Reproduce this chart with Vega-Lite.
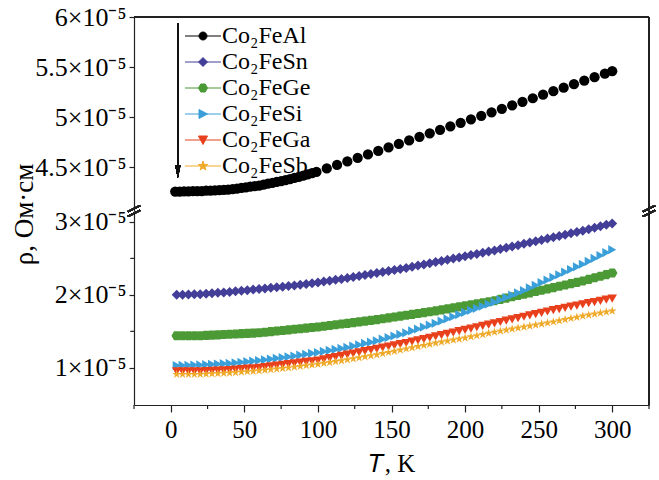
{
  "$schema": "https://vega.github.io/schema/vega-lite/v6.json",
  "background": "white",
  "padding": {"left": 10, "top": 4, "right": 4, "bottom": 4},
  "bounds": "flush",
  "spacing": 0,
  "resolve": {
    "scale": {"x": "independent", "y": "independent", "fill": "independent", "stroke": "independent", "shape": "independent"},
    "legend": {"fill": "independent", "stroke": "independent", "shape": "independent"}
  },
  "config": {
    "view": {"stroke": null},
    "font": "Liberation Serif",
    "axis": {"domainColor": "#222", "tickColor": "#222", "labelColor": "#000", "titleColor": "#000", "grid": false, "labelFont": "Liberation Serif", "titleFont": "Liberation Serif", "titleFontWeight": "normal", "domainWidth": 1.2, "tickWidth": 1.2}
  },
  "vconcat": [
    {
      "width": 515,
      "height": 194,
      "data": {"values": [{"T":3,"rho":4.26},{"T":6,"rho":4.26},{"T":9,"rho":4.261},{"T":12,"rho":4.262},{"T":15,"rho":4.263},{"T":18,"rho":4.264},{"T":21,"rho":4.265},{"T":24,"rho":4.268},{"T":27,"rho":4.27},{"T":30,"rho":4.272},{"T":33,"rho":4.275},{"T":36,"rho":4.277},{"T":39,"rho":4.28},{"T":42,"rho":4.284},{"T":45,"rho":4.29},{"T":48,"rho":4.296},{"T":51,"rho":4.302},{"T":54,"rho":4.308},{"T":57,"rho":4.314},{"T":60,"rho":4.32},{"T":63,"rho":4.329},{"T":66,"rho":4.338},{"T":69,"rho":4.347},{"T":72,"rho":4.356},{"T":75,"rho":4.365},{"T":78,"rho":4.374},{"T":81,"rho":4.383},{"T":84,"rho":4.395},{"T":87,"rho":4.407},{"T":90,"rho":4.419},{"T":93,"rho":4.431},{"T":96,"rho":4.443},{"T":99,"rho":4.455},{"T":106,"rho":4.49},{"T":113,"rho":4.525},{"T":120,"rho":4.56},{"T":127,"rho":4.595},{"T":134,"rho":4.63},{"T":141,"rho":4.665},{"T":148,"rho":4.7},{"T":155,"rho":4.735},{"T":162,"rho":4.77},{"T":169,"rho":4.805},{"T":176,"rho":4.84},{"T":183,"rho":4.875},{"T":190,"rho":4.91},{"T":197,"rho":4.945},{"T":204,"rho":4.98},{"T":211,"rho":5.015},{"T":218,"rho":5.05},{"T":225,"rho":5.085},{"T":232,"rho":5.12},{"T":239,"rho":5.155},{"T":246,"rho":5.19},{"T":253,"rho":5.225},{"T":260,"rho":5.26},{"T":267,"rho":5.295},{"T":274,"rho":5.33},{"T":281,"rho":5.365},{"T":288,"rho":5.4},{"T":295,"rho":5.435},{"T":300,"rho":5.46}]},
      "layer": [
        {
          "mark": {"type": "point", "shape": "circle", "filled": true, "size": 105, "color": "#000", "opacity": 1},
          "encoding": {
            "x": {"field": "T", "type": "quantitative", "scale": {"domain": [-25, 325], "nice": false, "zero": false}, "axis": null},
            "y": {"field": "rho", "type": "quantitative", "scale": {"domain": [4.066, 6], "nice": false, "zero": false},
              "axis": {"values": [4.5, 5, 5.5, 6], "labelExpr": "datum.value + '×10⁻⁵'", "title": null, "tickSize": 5, "labelFontSize": 26, "labelPadding": 3, "labelOverlap": false}}
          }
        },
        {
          "mark": {"type": "rule", "color": "#222", "strokeWidth": 1.2},
          "encoding": {"y": {"datum": 6, "type": "quantitative"}}
        },
        {
          "mark": {"type": "rule", "color": "#222", "strokeWidth": 1.2},
          "encoding": {"x": {"datum": 325, "type": "quantitative"}}
        },
        {
          "mark": {"type": "rule", "color": "#111", "strokeWidth": 1.3},
          "encoding": {
            "x": {"datum": 4.8, "type": "quantitative"},
            "y": {"datum": 5.94, "type": "quantitative"},
            "y2": {"datum": 4.44}
          }
        },
        {
          "mark": {"type": "point", "shape": "M-0.4,-1L0.4,-1L0,1Z", "filled": true, "size": 169, "color": "#111", "opacity": 1},
          "encoding": {
            "x": {"datum": 4.8, "type": "quantitative"},
            "y": {"datum": 4.46, "type": "quantitative"}
          }
        },
        {
          "data": {"values": []},
          "mark": {"type": "point", "filled": true, "opacity": 1},
          "encoding": {
            "fill": {"field": "compound", "type": "nominal",
              "scale": {"domain": ["Co₂FeAl", "Co₂FeSn", "Co₂FeGe", "Co₂FeSi", "Co₂FeGa", "Co₂FeSb"], "range": ["#000000", "#433e97", "#4b9a35", "#3b9fd9", "#e8401c", "#f0aa2a"]},
              "legend": {"orient": "none", "legendX": 57, "legendY": 7, "padding": 0, "rowPadding": 2, "labelOffset": 7, "symbolSize": 100, "labelFontSize": 24, "labelFont": "Liberation Serif", "labelColor": "#000", "title": null, "symbolStrokeWidth": 1, "symbolOpacity": 1, "labelLimit": 0}},
            "stroke": {"field": "compound", "type": "nominal",
              "scale": {"domain": ["Co₂FeAl", "Co₂FeSn", "Co₂FeGe", "Co₂FeSi", "Co₂FeGa", "Co₂FeSb"], "range": ["#000000", "#433e97", "#4b9a35", "#3b9fd9", "#e8401c", "#f0aa2a"]}},
            "shape": {"field": "compound", "type": "nominal",
              "scale": {"domain": ["Co₂FeAl", "Co₂FeSn", "Co₂FeGe", "Co₂FeSi", "Co₂FeGa", "Co₂FeSb"],
                "range": [
                  "M-3.6,0H3.6M0.8,0A0.8,0.8,0,1,1,-0.8,0A0.8,0.8,0,1,1,0.8,0Z",
                  "M-3.6,0H3.6M0,-0.9L0.9,0L0,0.9L-0.9,0Z",
                  "M-3.6,0H3.6M-0.9,0L-0.45,-0.8L0.45,-0.8L0.9,0L0.45,0.8L-0.45,0.8Z",
                  "M-3.6,0H3.6M-0.8,-0.9L0.9,0L-0.8,0.9Z",
                  "M-3.6,0H3.6M-0.9,-0.8L0.9,-0.8L0,0.9Z",
                  "M-3.6,0H3.6M0,-1L0.223,-0.307L0.951,-0.309L0.361,0.117L0.588,0.809L0,0.38L-0.588,0.809L-0.361,0.117L-0.951,-0.309L-0.223,-0.307Z"
                ]}}
          }
        }
      ]
    },
    {
      "width": 515,
      "height": 194,
      "data": {"values": [
        {"T":4,"Sn":2.0,"Ge":1.44,"Si":1.03,"Ga":0.95,"Sb":0.91},
        {"T":8,"Sn":2.0,"Ge":1.44,"Si":1.033,"Ga":0.95,"Sb":0.91},
        {"T":12,"Sn":2.005,"Ge":1.44,"Si":1.035,"Ga":0.95,"Sb":0.91},
        {"T":16,"Sn":2.01,"Ge":1.44,"Si":1.038,"Ga":0.95,"Sb":0.91},
        {"T":20,"Sn":2.01,"Ge":1.44,"Si":1.04,"Ga":0.95,"Sb":0.91},
        {"T":24,"Sn":2.016,"Ge":1.444,"Si":1.044,"Ga":0.954,"Sb":0.914},
        {"T":28,"Sn":2.022,"Ge":1.448,"Si":1.048,"Ga":0.958,"Sb":0.918},
        {"T":32,"Sn":2.028,"Ge":1.452,"Si":1.052,"Ga":0.962,"Sb":0.922},
        {"T":36,"Sn":2.034,"Ge":1.456,"Si":1.056,"Ga":0.966,"Sb":0.926},
        {"T":40,"Sn":2.04,"Ge":1.46,"Si":1.06,"Ga":0.97,"Sb":0.93},
        {"T":44,"Sn":2.048,"Ge":1.464,"Si":1.068,"Ga":0.976,"Sb":0.936},
        {"T":48,"Sn":2.056,"Ge":1.468,"Si":1.076,"Ga":0.982,"Sb":0.942},
        {"T":52,"Sn":2.064,"Ge":1.472,"Si":1.084,"Ga":0.988,"Sb":0.948},
        {"T":56,"Sn":2.072,"Ge":1.476,"Si":1.092,"Ga":0.994,"Sb":0.954},
        {"T":60,"Sn":2.08,"Ge":1.48,"Si":1.1,"Ga":1.0,"Sb":0.96},
        {"T":64,"Sn":2.088,"Ge":1.488,"Si":1.11,"Ga":1.01,"Sb":0.968},
        {"T":68,"Sn":2.096,"Ge":1.496,"Si":1.12,"Ga":1.02,"Sb":0.976},
        {"T":72,"Sn":2.104,"Ge":1.504,"Si":1.13,"Ga":1.03,"Sb":0.984},
        {"T":76,"Sn":2.112,"Ge":1.512,"Si":1.14,"Ga":1.04,"Sb":0.992},
        {"T":80,"Sn":2.12,"Ge":1.52,"Si":1.15,"Ga":1.05,"Sb":1.0},
        {"T":84,"Sn":2.13,"Ge":1.528,"Si":1.162,"Ga":1.06,"Sb":1.01},
        {"T":88,"Sn":2.14,"Ge":1.536,"Si":1.174,"Ga":1.07,"Sb":1.02},
        {"T":92,"Sn":2.15,"Ge":1.544,"Si":1.186,"Ga":1.08,"Sb":1.03},
        {"T":96,"Sn":2.16,"Ge":1.552,"Si":1.198,"Ga":1.09,"Sb":1.04},
        {"T":100,"Sn":2.17,"Ge":1.56,"Si":1.21,"Ga":1.1,"Sb":1.05},
        {"T":104,"Sn":2.182,"Ge":1.57,"Si":1.224,"Ga":1.116,"Sb":1.062},
        {"T":108,"Sn":2.194,"Ge":1.58,"Si":1.238,"Ga":1.132,"Sb":1.074},
        {"T":112,"Sn":2.206,"Ge":1.59,"Si":1.252,"Ga":1.148,"Sb":1.086},
        {"T":116,"Sn":2.218,"Ge":1.6,"Si":1.266,"Ga":1.164,"Sb":1.098},
        {"T":120,"Sn":2.23,"Ge":1.61,"Si":1.28,"Ga":1.18,"Sb":1.11},
        {"T":124,"Sn":2.244,"Ge":1.62,"Si":1.298,"Ga":1.196,"Sb":1.124},
        {"T":128,"Sn":2.258,"Ge":1.63,"Si":1.316,"Ga":1.212,"Sb":1.138},
        {"T":132,"Sn":2.272,"Ge":1.64,"Si":1.334,"Ga":1.228,"Sb":1.152},
        {"T":136,"Sn":2.286,"Ge":1.65,"Si":1.352,"Ga":1.244,"Sb":1.166},
        {"T":140,"Sn":2.3,"Ge":1.66,"Si":1.37,"Ga":1.26,"Sb":1.18},
        {"T":144,"Sn":2.314,"Ge":1.672,"Si":1.392,"Ga":1.276,"Sb":1.196},
        {"T":148,"Sn":2.328,"Ge":1.684,"Si":1.414,"Ga":1.292,"Sb":1.212},
        {"T":152,"Sn":2.342,"Ge":1.696,"Si":1.436,"Ga":1.308,"Sb":1.228},
        {"T":156,"Sn":2.356,"Ge":1.708,"Si":1.458,"Ga":1.324,"Sb":1.244},
        {"T":160,"Sn":2.37,"Ge":1.72,"Si":1.48,"Ga":1.34,"Sb":1.26},
        {"T":164,"Sn":2.386,"Ge":1.732,"Si":1.506,"Ga":1.358,"Sb":1.276},
        {"T":168,"Sn":2.402,"Ge":1.744,"Si":1.532,"Ga":1.376,"Sb":1.292},
        {"T":172,"Sn":2.418,"Ge":1.756,"Si":1.558,"Ga":1.394,"Sb":1.308},
        {"T":176,"Sn":2.434,"Ge":1.768,"Si":1.584,"Ga":1.412,"Sb":1.324},
        {"T":180,"Sn":2.45,"Ge":1.78,"Si":1.61,"Ga":1.43,"Sb":1.34},
        {"T":184,"Sn":2.466,"Ge":1.794,"Si":1.64,"Ga":1.448,"Sb":1.354},
        {"T":188,"Sn":2.482,"Ge":1.808,"Si":1.67,"Ga":1.466,"Sb":1.368},
        {"T":192,"Sn":2.498,"Ge":1.822,"Si":1.7,"Ga":1.484,"Sb":1.382},
        {"T":196,"Sn":2.514,"Ge":1.836,"Si":1.73,"Ga":1.502,"Sb":1.396},
        {"T":200,"Sn":2.53,"Ge":1.85,"Si":1.76,"Ga":1.52,"Sb":1.41},
        {"T":204,"Sn":2.546,"Ge":1.864,"Si":1.788,"Ga":1.538,"Sb":1.426},
        {"T":208,"Sn":2.562,"Ge":1.878,"Si":1.816,"Ga":1.556,"Sb":1.442},
        {"T":212,"Sn":2.578,"Ge":1.892,"Si":1.844,"Ga":1.574,"Sb":1.458},
        {"T":216,"Sn":2.594,"Ge":1.906,"Si":1.872,"Ga":1.592,"Sb":1.474},
        {"T":220,"Sn":2.61,"Ge":1.92,"Si":1.9,"Ga":1.61,"Sb":1.49},
        {"T":224,"Sn":2.628,"Ge":1.938,"Si":1.932,"Ga":1.628,"Sb":1.504},
        {"T":228,"Sn":2.646,"Ge":1.956,"Si":1.964,"Ga":1.646,"Sb":1.518},
        {"T":232,"Sn":2.664,"Ge":1.974,"Si":1.996,"Ga":1.664,"Sb":1.532},
        {"T":236,"Sn":2.682,"Ge":1.992,"Si":2.028,"Ga":1.682,"Sb":1.546},
        {"T":240,"Sn":2.7,"Ge":2.01,"Si":2.06,"Ga":1.7,"Sb":1.56},
        {"T":244,"Sn":2.718,"Ge":2.028,"Si":2.096,"Ga":1.718,"Sb":1.574},
        {"T":248,"Sn":2.736,"Ge":2.046,"Si":2.132,"Ga":1.736,"Sb":1.588},
        {"T":252,"Sn":2.754,"Ge":2.064,"Si":2.168,"Ga":1.754,"Sb":1.602},
        {"T":256,"Sn":2.772,"Ge":2.082,"Si":2.204,"Ga":1.772,"Sb":1.616},
        {"T":260,"Sn":2.79,"Ge":2.1,"Si":2.24,"Ga":1.79,"Sb":1.63},
        {"T":264,"Sn":2.808,"Ge":2.118,"Si":2.276,"Ga":1.806,"Sb":1.646},
        {"T":268,"Sn":2.826,"Ge":2.136,"Si":2.312,"Ga":1.822,"Sb":1.662},
        {"T":272,"Sn":2.844,"Ge":2.154,"Si":2.348,"Ga":1.838,"Sb":1.678},
        {"T":276,"Sn":2.862,"Ge":2.172,"Si":2.384,"Ga":1.854,"Sb":1.694},
        {"T":280,"Sn":2.88,"Ge":2.19,"Si":2.42,"Ga":1.87,"Sb":1.71},
        {"T":284,"Sn":2.9,"Ge":2.212,"Si":2.46,"Ga":1.886,"Sb":1.724},
        {"T":288,"Sn":2.92,"Ge":2.234,"Si":2.5,"Ga":1.902,"Sb":1.738},
        {"T":292,"Sn":2.94,"Ge":2.256,"Si":2.54,"Ga":1.918,"Sb":1.752},
        {"T":296,"Sn":2.96,"Ge":2.278,"Si":2.58,"Ga":1.934,"Sb":1.766},
        {"T":300,"Sn":2.98,"Ge":2.3,"Si":2.62,"Ga":1.95,"Sb":1.78}
      ]},
      "layer": [
        {
          "mark": {"type": "point", "shape": "diamond", "filled": true, "size": 100, "color": "#433e97", "opacity": 1},
          "encoding": {
            "x": {"field": "T", "type": "quantitative", "scale": {"domain": [-25, 325], "nice": false, "zero": false},
              "axis": {"values": [0, 50, 100, 150, 200, 250, 300], "tickSize": 7, "labelFontSize": 25, "titleFontSize": 25, "labelPadding": 5, "titlePadding": 9, "title": "𝑇, K", "labelFlush": false, "labelOverlap": false}},
            "y": {"field": "Sn", "type": "quantitative", "title": "ρ, Ом·см", "scale": {"domain": [0.49, 3.15], "nice": false, "zero": false},
              "axis": {"values": [1, 2, 3], "labelExpr": "datum.value + '×10⁻⁵'", "tickSize": 5, "labelFontSize": 26, "labelPadding": 3, "labelOverlap": false, "titleFontSize": 27, "titleX": -110, "titleY": 3, "titleAngle": 270, "titleAlign": "center", "titleBaseline": "middle"}}
          }
        },
        {
          "mark": {"type": "point", "shape": "M-1,0L-0.5,-0.87L0.5,-0.87L1,0L0.5,0.87L-0.5,0.87Z", "filled": true, "size": 110, "color": "#4b9a35", "opacity": 1},
          "encoding": {
            "x": {"field": "T", "type": "quantitative"},
            "y": {"field": "Ge", "type": "quantitative", "title": "ρ, Ом·см"}
          }
        },
        {
          "mark": {"type": "point", "shape": "triangle-right", "filled": true, "size": 85, "color": "#3b9fd9", "opacity": 1},
          "encoding": {
            "x": {"field": "T", "type": "quantitative"},
            "y": {"field": "Si", "type": "quantitative", "title": "ρ, Ом·см"}
          }
        },
        {
          "mark": {"type": "point", "shape": "triangle-down", "filled": true, "size": 90, "color": "#e8401c", "opacity": 1},
          "encoding": {
            "x": {"field": "T", "type": "quantitative"},
            "y": {"field": "Ga", "type": "quantitative", "title": "ρ, Ом·см"}
          }
        },
        {
          "mark": {"type": "point", "shape": "M0,-1L0.223,-0.307L0.951,-0.309L0.361,0.117L0.588,0.809L0,0.38L-0.588,0.809L-0.361,0.117L-0.951,-0.309L-0.223,-0.307Z", "filled": true, "size": 85, "color": "#f0aa2a", "opacity": 1},
          "encoding": {
            "x": {"field": "T", "type": "quantitative"},
            "y": {"field": "Sb", "type": "quantitative", "title": "ρ, Ом·см"}
          }
        },
        {
          "data": {"values": [{"tick": -25}, {"tick": 25}, {"tick": 75}, {"tick": 125}, {"tick": 175}, {"tick": 225}, {"tick": 275}, {"tick": 325}]},
          "mark": {"type": "rule", "color": "#222", "strokeWidth": 1.2},
          "encoding": {
            "x": {"field": "tick", "type": "quantitative", "title": "𝑇, K"},
            "y": {"datum": 0.49, "type": "quantitative"},
            "y2": {"datum": 0.435}
          }
        },
        {
          "data": {"values": [{"tick": 1.5}, {"tick": 2.5}]},
          "mark": {"type": "rule", "color": "#222", "strokeWidth": 1.2},
          "encoding": {
            "y": {"field": "tick", "type": "quantitative", "title": "ρ, Ом·см"},
            "x": {"datum": -25, "type": "quantitative"},
            "x2": {"datum": -27.5}
          }
        },
        {
          "mark": {"type": "rule", "color": "#222", "strokeWidth": 1.2},
          "encoding": {"x": {"datum": 325, "type": "quantitative"}}
        },
        {
          "mark": {"type": "point", "shape": "M-1,0.1L1,-0.9M-1,0.9L1,-0.1", "filled": false, "size": 144, "color": "#222", "strokeWidth": 1.2, "opacity": 1},
          "encoding": {
            "x": {"datum": -25, "type": "quantitative"},
            "y": {"datum": 3.15, "type": "quantitative"}
          }
        },
        {
          "mark": {"type": "point", "shape": "M-1,0.1L1,-0.9M-1,0.9L1,-0.1", "filled": false, "size": 144, "color": "#222", "strokeWidth": 1.2, "opacity": 1},
          "encoding": {
            "x": {"datum": 325, "type": "quantitative"},
            "y": {"datum": 3.15, "type": "quantitative"}
          }
        }
      ]
    }
  ]
}
